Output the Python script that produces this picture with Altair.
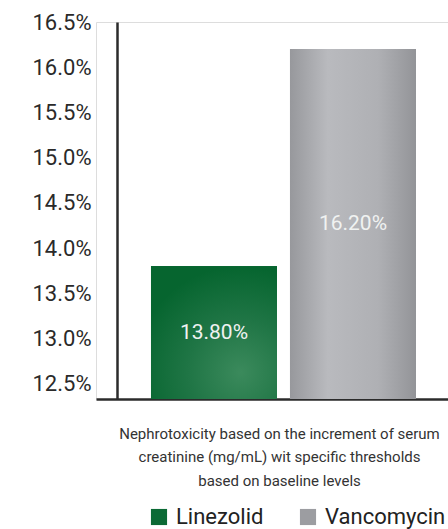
import altair as alt
import pandas as pd

# ---- data ----
drugs = ["Linezolid", "Vancomycin"]
rates = [13.80, 16.20]
y_ticks = [12.5, 13.0, 13.5, 14.0, 14.5, 15.0, 15.5, 16.0, 16.5]
y_min, y_max = 12.33, 16.5
caption = [
    "Nephrotoxicity based on the increment of serum",
    "creatinine (mg/mL) wit specific thresholds",
    "based on baseline levels",
]
legend_colors = ["#0b6a35", "#9c9da1"]

df = pd.DataFrame({"drug": drugs, "rate": rates})

green_grad = alt.RadialGradient(
    gradient="radial", x1=0.7, y1=0.8, r1=0.0, x2=0.7, y2=0.8, r2=0.8,
    stops=[
        alt.GradientStop(color="#3b8a5c", offset=0),
        alt.GradientStop(color="#1f7545", offset=0.5),
        alt.GradientStop(color="#06652f", offset=1),
    ],
)
gray_grad = alt.LinearGradient(
    gradient="linear", x1=0, y1=0, x2=1, y2=0,
    stops=[
        alt.GradientStop(color="#97989c", offset=0),
        alt.GradientStop(color="#b9babe", offset=0.3),
        alt.GradientStop(color="#afb0b4", offset=0.7),
        alt.GradientStop(color="#939498", offset=1),
    ],
)

x_enc = alt.X(
    "drug:N",
    sort=drugs,
    scale=alt.Scale(paddingInner=0.0935, paddingOuter=0.313, align=0.632),
    axis=alt.Axis(
        labels=False, ticks=False, domainColor="#2b2b2b", domainWidth=2.5,
        title=caption, titleFont="Roboto", titleFontSize=15, titleFontWeight="normal",
        titleColor="#333333", titleLineHeight=23.5, titleAlign="center",
        titleBaseline="top", titleX=183, titleY=27,
    ),
)
y_enc = alt.Y(
    "rate:Q",
    scale=alt.Scale(domain=[y_min, y_max], zero=False, nice=False),
    axis=alt.Axis(
        values=y_ticks, grid=False, ticks=False, offset=-21,
        labelExpr="format(datum.value, '.1f') + '%'",
        labelFont="Roboto", labelFontSize=22, labelColor="#2a2a2a", labelPadding=26,
        domainColor="#2b2b2b", domainWidth=2.5, title=None,
    ),
)

base = alt.Chart(df).transform_calculate(
    label="format(datum.rate, '.2f') + '%'",
    mid=f"(datum.rate + {y_min}) / 2",
)

flat = base.mark_bar().encode(
    x=x_enc, y=y_enc, y2=alt.datum(y_min),
    color=alt.Color(
        "drug:N",
        scale=alt.Scale(domain=drugs, range=legend_colors),
        legend=alt.Legend(
            orient="none", legendX=52, legendY=484, direction="horizontal", title=None,
            symbolType="square", symbolSize=260, symbolStrokeWidth=0,
            labelFont="Roboto", labelFontSize=22, labelColor="#222222",
            labelOffset=6, columnPadding=33,
        ),
    ),
)
green_bar = base.transform_filter("datum.drug == 'Linezolid'").mark_bar(fill=green_grad).encode(
    x=alt.X("drug:N", sort=drugs), y=alt.Y("rate:Q"), y2=alt.datum(y_min)
)
gray_bar = base.transform_filter("datum.drug == 'Vancomycin'").mark_bar(fill=gray_grad).encode(
    x=alt.X("drug:N", sort=drugs), y=alt.Y("rate:Q"), y2=alt.datum(y_min)
)
labels = base.mark_text(
    font="Roboto", fontSize=21, color="#f0f2f1", baseline="middle", align="center"
).encode(x=alt.X("drug:N", sort=drugs), y=alt.Y("mid:Q"), text="label:N")

chart = alt.layer(flat, green_bar, gray_bar, labels).properties(
    width=352, height=377,
    autosize=alt.AutoSizeParams(type="none"),
    padding={"left": 96, "top": 22, "right": 0, "bottom": 130},
).configure_view(stroke=None).configure(background="white")

chart.save("out.html", embed_options={"renderer": "svg", "actions": False})
